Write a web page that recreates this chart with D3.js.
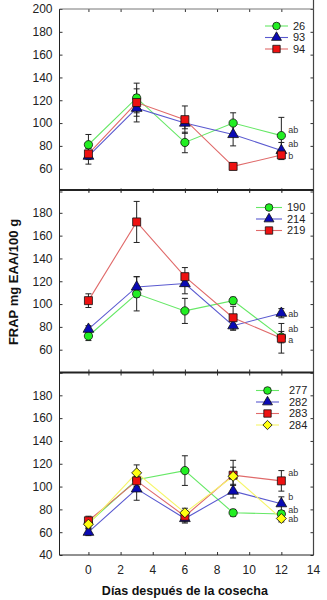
<!DOCTYPE html>
<html>
<head>
<meta charset="utf-8">
<script src="https://cdn.jsdelivr.net/npm/d3@7"></script>
<style>
  body { margin: 0; background: #fff; }
  svg { display: block; font-family: "Liberation Sans", Arial, sans-serif; }
</style>
</head>
<body>
<div id="container"></div>
<script>
/* CONSTANTS AND GLOBALS */
const width = 327,
      height = 600,
      left = 59.5,
      right = 313.5;

const panelTops = [9, 190, 372.5];
const panelHeight = 182.5;

/* DATA */
const days = [0, 3, 6, 9, 12];
const xTicks = [0, 2, 4, 6, 8, 10, 12, 14];
const yTicks = [40, 60, 80, 100, 120, 140, 160, 180, 200];

// panel 1
const names1 = ["26", "93", "94"];
const v26 = [81, 122, 83, 100, 89],  e26 = [9, 13, 9, 9, 16];
const v93 = [71, 113, 100, 90, 76],  e93 = [7, 12, 5, 10, 7];
const v94 = [73, 118, 103, 62, 72],  e94 = [5, 12, 12, 3, 4];
const letters1 = ["ab", "ab", "b"], letterY1 = [94, 82, 71];

// panel 2
const names2 = ["190", "214", "219"];
const v190 = [72, 109, 94, 103, 71], e190 = [4, 15, 11, 3, 5];
const v214 = [78, 115, 118, 81, 92], e214 = [3, 9, 9, 4, 4];
const v219 = [103, 172, 124, 88, 70], e219 = [6, 18, 8, 10, 13];
const letters2 = ["ab", "ab", "a"], letterY2 = [91, 78, 69];

// panel 3
const names3 = ["277", "282", "283", "284"];
const v277 = [68, 106, 114, 77, 76], e277 = [4, 6, 13, 3, 3];
const v282 = [60, 98, 72, 96, 85],   e282 = [3, 10, 4, 6, 6];
const v283 = [70, 105, 74, 110, 105], e283 = [4, 8, 5, 13, 9];
const v284 = [67, 112, 77, 109, 72], e284 = [4, 7, 4, 8, 3];
const letters3 = ["ab", "b", "ab", "ab"], letterY3 = [112, 91, 80, 72];

/* STYLES */
const styles = [
  { shape: "circle",   fill: "#22ee22", line: "#66e866" },
  { shape: "triangle", fill: "#0a0ab4", line: "#5a5ad0" },
  { shape: "square",   fill: "#ee1111", line: "#e06a6a" },
  { shape: "diamond",  fill: "#ffff10", line: "#f6f66a" }
];

const panels = [
  { names: names1, values: [v26, v93, v94], errors: [e26, e93, e94],
    letters: letters1, letterY: letterY1, ticks: [60, 80, 100, 120, 140, 160, 180, 200],
    legend: { y: 26, x0: 265, x1: 288, tx: 293 } },
  { names: names2, values: [v190, v214, v219], errors: [e190, e214, e219],
    letters: letters2, letterY: letterY2, ticks: [60, 80, 100, 120, 140, 160, 180],
    legend: { y: 207.5, x0: 256, x1: 282, tx: 287 } },
  { names: names3, values: [v277, v282, v283, v284], errors: [e277, e282, e283, e284],
    letters: letters3, letterY: letterY3, ticks: [40, 60, 80, 100, 120, 140, 160, 180],
    legend: { y: 390.5, x0: 256, x1: 279, tx: 289 } }
];

/* SCALES */
const xScale = d3.scaleLinear()
  .domain([-1.8, 14])
  .range([left, right]);

const symbolFor = (shape, k = 1) => {
  if (shape === "circle") return d3.symbol(d3.symbolCircle, 54 * k)();
  if (shape === "triangle") return d3.symbol(d3.symbolTriangle, 50 * k)();
  if (shape === "square") return d3.symbol(d3.symbolSquare, 64 * k)();
  return d3.symbol(d3.symbolSquare, 50 * k)();
};

/* SVG */
const svg = d3.select("#container")
  .append("svg")
  .attr("width", width)
  .attr("height", height);

panels.forEach((p, pi) => {
  const top = panelTops[pi];
  const yScale = d3.scaleLinear()
    .domain([40, 200])
    .range([top + panelHeight, top]);

  const g = svg.append("g");

  // left axis
  const gy = g.append("g")
    .attr("transform", `translate(${left},0)`)
    .call(d3.axisRight(yScale).tickValues(yTicks).tickSize(3).tickFormat(""));
  gy.select(".domain").remove();
  gy.selectAll(".tick line").attr("stroke", "#333");

  g.selectAll(".ylab")
    .data(p.ticks)
    .join("text")
    .attr("class", "ylab")
    .attr("x", left - 7)
    .attr("y", d => yScale(d))
    .attr("dy", "0.36em")
    .attr("text-anchor", "end")
    .attr("font-size", 12)
    .attr("fill", "#222")
    .text(d => d);

  // right axis ticks
  const gr = g.append("g")
    .attr("transform", `translate(${right},0)`)
    .call(d3.axisLeft(yScale).tickValues(yTicks).tickSize(3).tickFormat(""));
  gr.select(".domain").remove();
  gr.selectAll(".tick line").attr("stroke", "#333");

  // top ticks
  const gt = g.append("g")
    .attr("transform", `translate(0,${top})`)
    .call(d3.axisBottom(xScale).tickValues(xTicks.slice(0, 7)).tickSize(3).tickFormat(""));
  gt.select(".domain").remove();
  gt.selectAll(".tick line").attr("stroke", "#333");

  // bottom ticks
  const gb = g.append("g")
    .attr("transform", `translate(0,${top + panelHeight})`)
    .call(d3.axisTop(xScale).tickValues(xTicks.slice(0, 7)).tickSize(3).tickFormat(""));
  gb.select(".domain").remove();
  gb.selectAll(".tick line").attr("stroke", "#333");

  // series lines
  const line = d3.line()
    .x((d, i) => xScale(days[i]))
    .y(d => yScale(d));

  p.values.forEach((vals, si) => {
    g.append("path")
      .datum(vals)
      .attr("d", line)
      .attr("fill", "none")
      .attr("stroke", styles[si].line)
      .attr("stroke-width", 1.1);
  });

  // error bars
  p.values.forEach((vals, si) => {
    const errs = p.errors[si];
    const eg = g.append("g").attr("stroke", "#222").attr("stroke-width", 1);
    vals.forEach((v, i) => {
      const x = xScale(days[i]);
      eg.append("line")
        .attr("x1", x).attr("x2", x)
        .attr("y1", yScale(v - errs[i])).attr("y2", yScale(v + errs[i]));
      [v - errs[i], v + errs[i]].forEach(e => {
        eg.append("line")
          .attr("x1", x - 3).attr("x2", x + 3)
          .attr("y1", yScale(e)).attr("y2", yScale(e));
      });
    });
  });

  // markers
  p.values.forEach((vals, si) => {
    const st = styles[si];
    g.selectAll(null)
      .data(vals)
      .join("path")
      .attr("d", symbolFor(st.shape))
      .attr("transform", (d, i) => `translate(${xScale(days[i])},${yScale(d)})` + (st.shape === "diamond" ? " rotate(45)" : ""))
      .attr("fill", st.fill)
      .attr("stroke", "#111")
      .attr("stroke-width", 0.8);
  });

  // letters
  g.selectAll(".letter")
    .data(p.letters)
    .join("text")
    .attr("class", "letter")
    .attr("x", xScale(12) + 7)
    .attr("y", (d, i) => yScale(p.letterY[i]))
    .attr("dy", "0.35em")
    .attr("font-size", 9)
    .attr("fill", "#333")
    .text(d => d);

  // legend
  const lg = p.legend;
  p.names.forEach((n, si) => {
    const st = styles[si];
    const y = lg.y + si * 11.5;
    g.append("line")
      .attr("x1", lg.x0).attr("x2", lg.x1)
      .attr("y1", y).attr("y2", y)
      .attr("stroke", st.line)
      .attr("stroke-width", 1.1);
    g.append("path")
      .attr("d", symbolFor(st.shape, 0.85))
      .attr("transform", `translate(${(lg.x0 + lg.x1) / 2},${y})` + (st.shape === "diamond" ? " rotate(45)" : ""))
      .attr("fill", st.fill)
      .attr("stroke", "#111")
      .attr("stroke-width", 0.8);
    g.append("text")
      .attr("x", lg.tx)
      .attr("y", y)
      .attr("dy", "0.36em")
      .attr("font-size", 11)
      .attr("fill", "#222")
      .text(n);
  });
});

// frame
svg.append("line")
  .attr("x1", left).attr("x2", left)
  .attr("y1", panelTops[0]).attr("y2", panelTops[2] + panelHeight)
  .attr("stroke", "#222").attr("stroke-width", 1);
svg.append("line")
  .attr("x1", right).attr("x2", right)
  .attr("y1", 0).attr("y2", panelTops[2] + panelHeight)
  .attr("stroke", "#444").attr("stroke-width", 1.2);
svg.append("line")
  .attr("x1", left).attr("x2", right)
  .attr("y1", panelTops[0]).attr("y2", panelTops[0])
  .attr("stroke", "#777").attr("stroke-width", 1);
[panelTops[1], panelTops[2]].forEach(y => {
  svg.append("line")
    .attr("x1", left).attr("x2", right)
    .attr("y1", y).attr("y2", y)
    .attr("stroke", "#222").attr("stroke-width", 1.8);
});
svg.append("line")
  .attr("x1", left).attr("x2", right)
  .attr("y1", panelTops[2] + panelHeight).attr("y2", panelTops[2] + panelHeight)
  .attr("stroke", "#222").attr("stroke-width", 1);

// x tick labels
svg.selectAll(".xlab")
  .data(xTicks)
  .join("text")
  .attr("class", "xlab")
  .attr("x", d => xScale(d))
  .attr("y", 570)
  .attr("dy", "0.36em")
  .attr("text-anchor", "middle")
  .attr("font-size", 12)
  .attr("fill", "#222")
  .text(d => d);

// axis titles
svg.append("text")
  .attr("x", xScale(6))
  .attr("y", 590)
  .attr("dy", "0.36em")
  .attr("text-anchor", "middle")
  .attr("font-size", 12.5)
  .attr("font-weight", "bold")
  .attr("fill", "#111")
  .text("Días después de la cosecha");

svg.append("text")
  .attr("transform", "translate(13,282) rotate(-90)")
  .attr("dy", "0.36em")
  .attr("text-anchor", "middle")
  .attr("font-size", 13)
  .attr("font-weight", "bold")
  .attr("fill", "#111")
  .text("FRAP mg EAA/100 g");
</script>
</body>
</html>
